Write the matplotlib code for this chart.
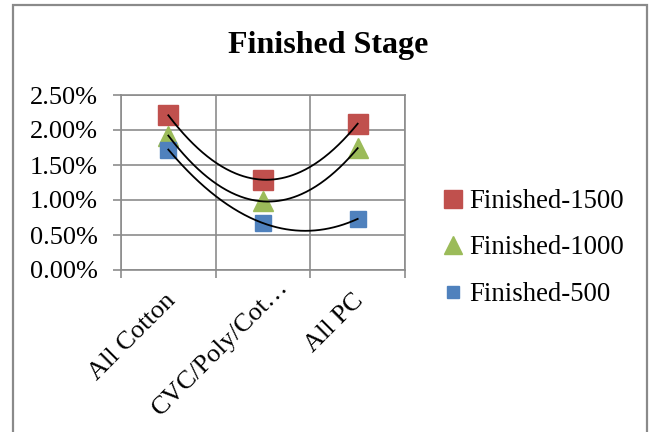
import numpy as np
import matplotlib
matplotlib.use("Agg")
import matplotlib.pyplot as plt
from matplotlib.patches import Rectangle
from matplotlib.ticker import FixedLocator, FuncFormatter
from matplotlib.transforms import ScaledTranslation

plt.rcParams['font.family'] = ['Liberation Serif', 'DejaVu Serif']

categories = ['All Cotton', 'CVC/Poly/Cot\u2026', 'All PC']
finished_1500 = [2.21, 1.29, 2.09]
finished_1000 = [1.92, 0.98, 1.74]
finished_500 = [1.72, 0.67, 0.73]

series = [
    ('Finished-1500', finished_1500, 's', '#C0504D', 15),
    ('Finished-1000', finished_1000, '^', '#9BBB59', 15),
    ('Finished-500', finished_500, 's', '#4F81BD', 11),
]

W, H = 651, 432
fig = plt.figure(figsize=(W / 100, H / 100), dpi=100)
ax = fig.add_axes([121 / W, 1 - 270 / H, (405 - 121) / W, (270 - 95) / H])

grid_col = '#8C8C8C'
x = np.arange(1, len(categories) + 1)
xs = np.linspace(1, len(categories), 200)

handles = []
for name, vals, mk, col, ms in series:
    h, = ax.plot(x, vals, linestyle='none', marker=mk, markersize=ms,
                 color=col, label=name, zorder=3)
    handles.append(h)
    # second order polynomial trendline
    coef = np.polyfit(x, vals, 2)
    ax.plot(xs, np.polyval(coef, xs), color='black', lw=1.3, zorder=4)

ax.set_xlim(0.5, len(categories) + 0.5)
ax.set_ylim(0, 2.5)
ax.set_yticks(np.arange(0, 2.51, 0.5))
ax.yaxis.set_major_formatter(FuncFormatter(lambda v, p: '%.2f%%' % v))
ax.set_xticks(x)
ax.set_xticklabels(categories, rotation=45, ha='right', rotation_mode='anchor')
ax.xaxis.set_minor_locator(FixedLocator(np.arange(0.5, len(categories) + 1, 1)))

ax.tick_params(axis='x', which='major', length=0, pad=14, labelsize=19)
ax.tick_params(axis='x', which='minor', length=6, color=grid_col, width=1.2)
ax.tick_params(axis='y', length=6, color=grid_col, width=1.2, pad=11, labelsize=19)

# nudge the rotated category labels; the truncated one sits higher
shifts = [(-4, 0), (14, 14), (-5, 0)]
for lab, (dx, dy) in zip(ax.get_xticklabels(), shifts):
    lab.set_transform(lab.get_transform() +
                      ScaledTranslation(dx / 100, dy / 100, fig.dpi_scale_trans))

ax.grid(True, axis='y', which='major', color=grid_col, lw=1.2)
ax.grid(True, axis='x', which='minor', color=grid_col, lw=1.2)
ax.set_axisbelow(True)
for s in ax.spines.values():
    s.set_color(grid_col)
    s.set_linewidth(1.2)

fig.text(328 / W, 1 - 45 / H, 'Finished Stage', ha='center', va='center',
         fontsize=23, fontweight='bold')

fig.legend(handles=handles, loc='center left', bbox_to_anchor=(421 / W, 1 - 248 / H),
           frameon=False, fontsize=19.3, handlelength=0.6, handletextpad=0.3,
           labelspacing=0.8, markerscale=0.85)

# outer chart frame
fig.add_artist(Rectangle((13 / W, -0.1), (647 - 13) / W, 1.1 - 5 / H,
                         transform=fig.transFigure, fill=False,
                         edgecolor='#8A8A8A', lw=1.6))

fig.savefig('out.png', dpi=100)
